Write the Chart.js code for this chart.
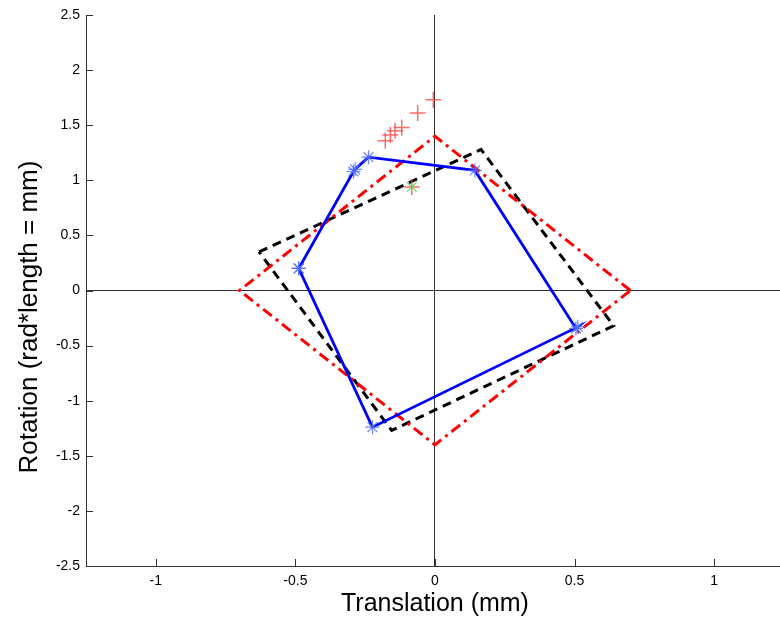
<!DOCTYPE html>
<html>
<head>
<meta charset="utf-8">
<script src="https://cdn.jsdelivr.net/npm/chart.js@4/dist/chart.umd.min.js"></script>
<style>
html,body{margin:0;padding:0;background:#fff;}
#wrap{width:780px;height:622px;}
</style>
</head>
<body>
<div id="wrap"><canvas id="c" width="780" height="622"></canvas></div>
<script>
// ---- data ----
const xTickValues = [-1, -0.5, 0, 0.5, 1];
const yTickValues = [-2.5, -2, -1.5, -1, -0.5, 0, 0.5, 1, 1.5, 2, 2.5];
const xTitle = "Translation (mm)";
const yTitle = "Rotation (rad*length = mm)";

// red dash-dot diamond
const diamondX = [0.7, 0, -0.7, 0, 0.7];
const diamondY = [0, 1.4, 0, -1.4, 0];

// black dashed rotated rectangle
const rectX = [-0.63, 0.165, 0.64, -0.155, -0.63];
const rectY = [0.35, 1.28, -0.32, -1.27, 0.35];

// blue measured polygon (star markers)
const blueX = [-0.488, -0.292, -0.286, -0.238, 0.143, 0.505, 0.512, -0.224, -0.488];
const blueY = [0.20, 1.08, 1.10, 1.21, 1.09, -0.345, -0.33, -1.24, 0.20];

// red plus markers
const plusX = [-0.006, -0.062, -0.119, -0.143, -0.160, -0.178, -0.083];
const plusY = [1.73, 1.61, 1.48, 1.45, 1.41, 1.36, 0.94];

// green x marker
const greenX = [-0.083];
const greenY = [0.94];

const pts = (xs, ys) => xs.map((x, i) => ({x: x, y: ys[i]}));
const fmt = v => String(Number(v.toFixed(2)));

const tickPlugin = {
  id: 'inwardTicks',
  afterDraw(chart) {
    const c = chart.ctx, a = chart.chartArea;
    const xs = chart.scales.x, ys = chart.scales.y;
    c.save();
    c.strokeStyle = '#333';
    c.lineWidth = 1;
    c.beginPath();
    xTickValues.forEach(v => {
      const p = Math.round(xs.getPixelForValue(v)) + 0.5;
      c.moveTo(p, a.bottom); c.lineTo(p, a.bottom - 7);
    });
    yTickValues.forEach(v => {
      const p = Math.round(ys.getPixelForValue(v)) + 0.5;
      c.moveTo(a.left, p); c.lineTo(a.left + 7, p);
    });
    c.stroke();
    // axis titles
    c.fillStyle = '#000';
    c.textAlign = 'center';
    c.textBaseline = 'middle';
    c.font = '25px "Liberation Sans", Arial, sans-serif';
    c.fillText(xTitle, xs.getPixelForValue(0), 604);
    c.font = '26px "Liberation Sans", Arial, sans-serif';
    c.translate(30, 317);
    c.rotate(-Math.PI / 2);
    c.fillText(yTitle, 0, 0);
    c.restore();
  }
};

new Chart(document.getElementById('c'), {
  type: 'scatter',
  data: {
    datasets: [
      {
        label: 'plus', data: pts(plusX, plusY), showLine: false,
        pointStyle: 'cross', pointRadius: 8, pointBorderWidth: 1.5,
        borderColor: 'rgba(255,60,60,0.75)', backgroundColor: 'rgba(255,60,60,0.75)', order: 1
      },
      {
        label: 'green', data: pts(greenX, greenY), showLine: false,
        pointStyle: 'crossRot', pointRadius: 7, pointBorderWidth: 1.2,
        borderColor: 'rgba(60,220,60,0.8)', backgroundColor: 'rgba(60,220,60,0.8)', order: 0
      },
      {
        label: 'blue', data: pts(blueX, blueY), showLine: true,
        borderColor: '#0000ff', borderWidth: 2.8, backgroundColor: 'rgba(80,110,255,0.85)',
        pointStyle: 'star', pointRadius: 7, pointBorderWidth: 1.2,
        pointBorderColor: 'rgba(80,110,255,0.85)', order: 2
      },
      {
        label: 'diamond', data: pts(diamondX, diamondY), showLine: true,
        borderColor: '#ff0000', borderWidth: 3, borderDash: [11, 5, 3, 5],
        pointRadius: 0, order: 3
      },
      {
        label: 'rect', data: pts(rectX, rectY), showLine: true,
        borderColor: '#000000', borderWidth: 3, borderDash: [9, 6],
        pointRadius: 0, order: 4
      }
    ]
  },
  options: {
    responsive: false,
    animation: false,
    events: [],
    layout: {autoPadding: false, padding: {top: 15, right: 0, left: 0, bottom: 0}},
    plugins: {legend: {display: false}, tooltip: {enabled: false}, title: {display: false}},
    scales: {
      x: {
        type: 'linear', min: -1.25, max: 1.236,
        afterBuildTicks: s => { s.ticks = xTickValues.map(v => ({value: v})); },
        afterFit: s => { s.height = 56; },
        ticks: {color: '#000', font: {family: '"Liberation Sans", Arial, sans-serif', size: 14}, padding: 7, callback: v => fmt(v)},
        grid: {drawTicks: false, lineWidth: 1, color: ctx => (ctx.tick && ctx.tick.value === 0) ? '#333' : 'rgba(0,0,0,0)'},
        border: {display: true, color: '#333', width: 1}
      },
      y: {
        type: 'linear', min: -2.5, max: 2.5,
        afterBuildTicks: s => { s.ticks = yTickValues.map(v => ({value: v})); },
        afterFit: s => { s.width = 86; },
        ticks: {color: '#000', font: {family: '"Liberation Sans", Arial, sans-serif', size: 14}, padding: 6, callback: v => fmt(v)},
        grid: {drawTicks: false, lineWidth: 1, color: ctx => (ctx.tick && ctx.tick.value === 0) ? '#333' : 'rgba(0,0,0,0)'},
        border: {display: true, color: '#333', width: 1}
      }
    }
  },
  plugins: [tickPlugin]
});
</script>
</body>
</html>
